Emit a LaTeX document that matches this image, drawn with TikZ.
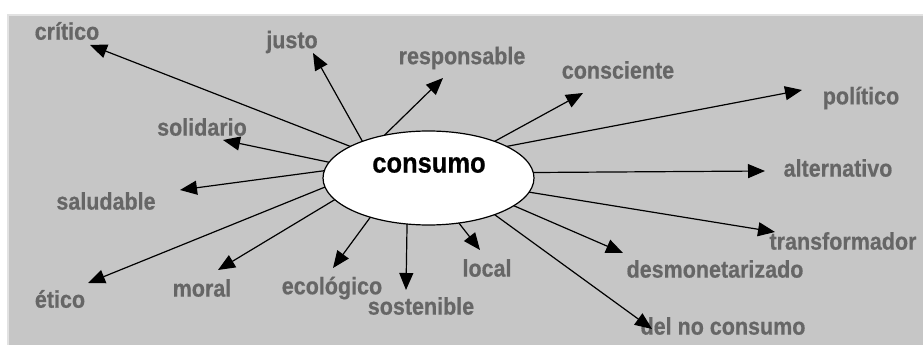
\documentclass[tikz,border=0pt]{standalone}
\usepackage{graphicx}
\usepackage{fontspec}
\setmainfont{Liberation Sans}[BoldFont={Liberation Sans Bold}, BoldFeatures={FakeBold=0.6}]
\usetikzlibrary{arrows.meta,shapes.geometric}
\definecolor{labelgray}{HTML}{666666}
\definecolor{backgray}{HTML}{C6C6C6}
\definecolor{edgegray}{HTML}{E2E2E2}
\newcommand\tallw[1]{\scalebox{1}[1.12]{#1}}
\begin{document}
\begin{tikzpicture}[x=1pt,y=-1pt,
  every node/.style={inner sep=0pt, outer sep=0pt},
  word/.style={text=labelgray, font=\fontsize{21.5}{24}\selectfont\bfseries},
  ray/.style={line width=1.2pt, -{Triangle[length=17pt,width=14pt]}}]
\useasboundingbox (0,0) rectangle (923,345);
\fill[white] (0,0) rectangle (923,345);
\fill[backgray, draw=edgegray, line width=2pt] (8,15) rectangle (924,346);

% Centre
\node[ellipse, draw, fill=white, line width=1.2pt, minimum width=211pt, minimum height=94pt] (consumo) at (428.5,178) {};
\node[font=\fontsize{25.5}{28}\selectfont\bfseries] (consumotxt) at (429,165) {\tallw{consumo}};

% Upper labels left to right
\node[word] (critico) at (67,31) {\tallw{crítico}};
\node[word] (justo) at (292,42) {\tallw{justo}};
\node[word] (responsable) at (462,58) {\tallw{responsable}};
\node[word] (consciente) at (618,70) {\tallw{consciente}};
\node[word] (politico) at (861,98) {\tallw{político}};

% Right labels top to bottom
\node[word] (alternativo) at (838,168) {\tallw{alternativo}};
\node[word] (transformador) at (843,241) {\tallw{transformador}};
\node[word] (desmonetarizado) at (715,269) {\tallw{desmonetarizado}};
\node[word] (delnoconsumo) at (723,326) {\tallw{del no consumo}};

% Lower labels right to left
\node[word] (local) at (487,268) {\tallw{local}};
\node[word] (sostenible) at (421,306) {\tallw{sostenible}};
\node[word] (ecologico) at (332,288) {\tallw{ecológico}};
\node[word] (moral) at (202,288) {\tallw{moral}};
\node[word] (etico) at (60,299) {\tallw{ético}};

% Left labels
\node[word] (saludable) at (106,201) {\tallw{saludable}};
\node[word] (solidario) at (202,127) {\tallw{solidario}};

% Arrow tips
\coordinate (tcritico) at (90,45);
\coordinate (tjusto) at (313,53);
\coordinate (tresponsable) at (443,78);
\coordinate (tconsciente) at (583,93);
\coordinate (tpolitico) at (802,90);
\coordinate (talternativo) at (765,171);
\coordinate (ttransformador) at (775,232);
\coordinate (tdesmonetarizado) at (623,253);
\coordinate (tdelnoconsumo) at (652,329);
\coordinate (tlocal) at (480,250);
\coordinate (tsostenible) at (406,290);
\coordinate (tecologico) at (333,268);
\coordinate (tmoral) at (218,270);
\coordinate (tetico) at (88,283);
\coordinate (tsaludable) at (180,190);
\coordinate (tsolidario) at (223,140);

% Arrows from the ellipse
\draw[ray] (consumo.158.5) -- (tcritico);
\draw[ray] (consumo.151.6) -- (tjusto);
\draw[ray] (consumo.136) -- (tresponsable);
\draw[ray] (consumo.29.7) -- (tconsciente);
\draw[ray] (consumo.22.5) -- (tpolitico);
\draw[ray] (consumo.3.8) -- (talternativo);
\draw[ray] (consumo.-8) -- (ttransformador);
\draw[ray] (consumo.-18) -- (tdesmonetarizado);
\draw[ray] (consumo.-29.7) -- (tdelnoconsumo);
\draw[ray] (consumo.-56.2) -- (tlocal);
\draw[ray] (consumo.-115.6) -- (tsostenible);
\draw[ray] (consumo.214.8) -- (tecologico);
\draw[ray] (consumo.193) -- (tmoral);
\draw[ray] (consumo.185.1) -- (tetico);
\draw[ray] (consumo.176.7) -- (tsaludable);
\draw[ray] (consumo.171.8) -- (tsolidario);
\end{tikzpicture}
\end{document}
